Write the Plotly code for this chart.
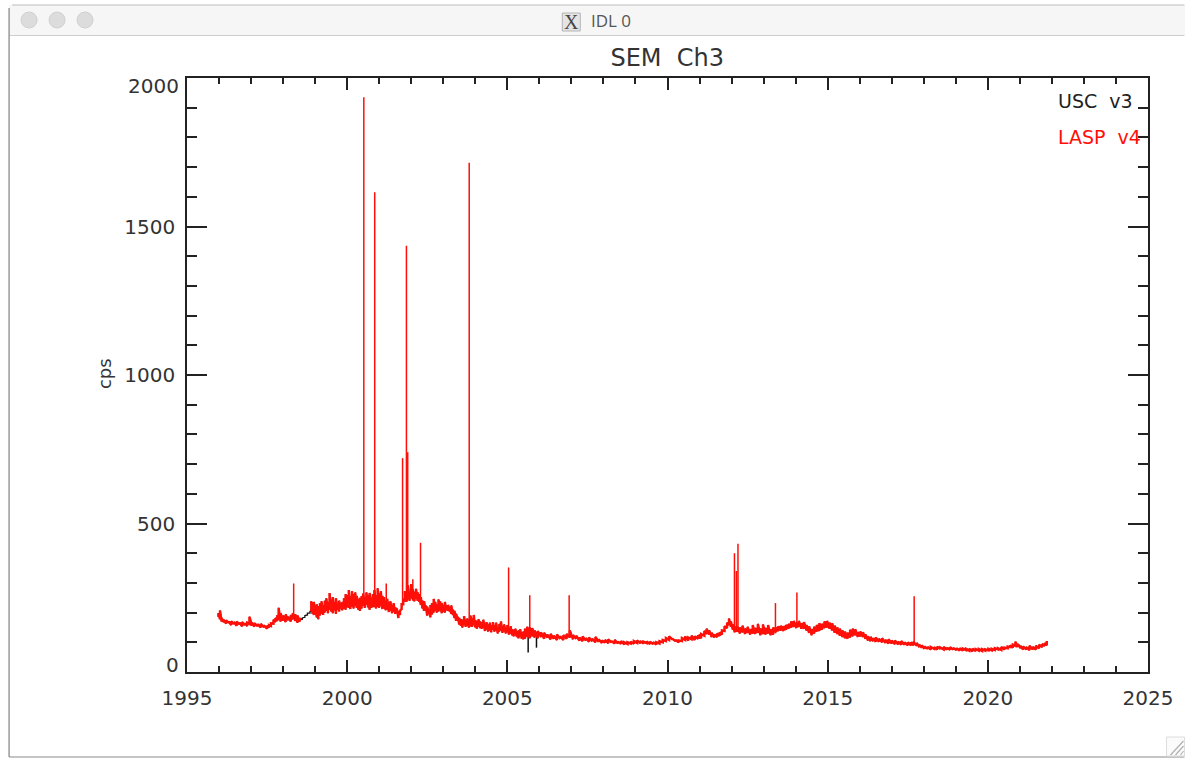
import plotly.graph_objects as go

# ---------- data ----------
t_a = [1995.98,1996.03,1996.08,1996.15,1996.22,1996.3,1996.38,1996.46,1996.55,1996.64,1996.72,1996.8,1996.88,1996.95,1997.03,1997.1,1997.2,1997.3,1997.4,1997.5,1997.56,1997.62,1997.7,1997.76,1997.82,1997.86,1997.92,1998.0,1998.08,1998.16,1998.24,1998.3,1998.38,1998.45,1998.52]
lo_a = [186,178,170,168,163,166,158,162,156,160,154,158,155,162,156,153,155,150,151,146,150,155,163,168,172,176,170,173,168,174,170,178,172,166,170]
hi_a = [198,207,182,176,174,170,171,168,170,166,168,164,166,186,166,164,161,162,157,156,158,164,176,182,192,216,198,190,194,186,192,198,194,190,182]

t_b = [1998.6,1998.68,1998.76,1998.84]
lo_b = [176,184,192,198]
hi_b = [182,190,198,204]

t_c = [1998.88,1998.92,1998.96,1999.0,1999.05,1999.1,1999.15,1999.2,1999.25,1999.3,1999.35,1999.4,1999.45,1999.5,1999.55,1999.6,1999.65,1999.7,1999.75,1999.8,1999.85,1999.9,1999.95,2000.0,2000.05,2000.1,2000.15,2000.2,2000.25,2000.3,2000.35,2000.4,2000.45,2000.5,2000.55,2000.6,2000.65,2000.7,2000.75,2000.8,2000.85,2000.9,2000.95,2001.0,2001.05,2001.1,2001.15,2001.2,2001.25,2001.3,2001.35,2001.4,2001.45,2001.5,2001.55,2001.6,2001.65,2001.7,2001.75,2001.8,2001.85,2001.9,2001.95,2002.0,2002.05,2002.1,2002.15,2002.2,2002.25,2002.3,2002.35,2002.4,2002.45,2002.5,2002.55,2002.6,2002.65,2002.7,2002.75,2002.8,2002.85,2002.9,2002.95,2003.0,2003.05,2003.1,2003.15,2003.2,2003.25,2003.3,2003.35,2003.4,2003.45,2003.5,2003.55,2003.6,2003.65,2003.7,2003.75,2003.8,2003.85,2003.9,2003.95,2004.0,2004.05,2004.1,2004.15,2004.2,2004.25,2004.3,2004.35,2004.4,2004.45,2004.5,2004.55,2004.6,2004.65,2004.7,2004.75,2004.8,2004.85,2004.9,2004.95,2005.0,2005.05,2005.1,2005.15,2005.2,2005.25,2005.3,2005.35,2005.4,2005.45,2005.5]
lo_c = [204,196,192,198,184,178,190,196,192,200,206,198,210,204,198,208,196,210,204,212,208,214,210,218,216,212,220,214,222,216,210,206,214,224,216,226,218,210,216,218,222,214,220,216,222,212,214,208,210,202,206,198,204,196,200,182,192,212,228,238,236,246,240,248,244,238,246,240,236,226,214,206,210,190,196,184,194,200,206,200,204,206,198,204,200,208,206,204,196,192,182,172,176,160,156,150,158,152,156,150,154,152,158,150,146,152,148,146,150,138,144,136,140,134,142,136,140,130,136,140,132,138,130,134,126,130,124,120,124,118,114,118,112,110]
hi_c = [238,226,236,222,228,222,232,238,226,240,248,236,266,244,252,236,248,228,240,232,236,248,262,258,276,254,272,262,268,256,246,250,256,264,252,268,258,266,250,262,276,258,282,264,272,256,252,240,246,236,238,226,232,218,214,204,206,228,246,272,258,292,270,296,278,270,280,268,262,252,240,238,224,220,210,226,232,246,236,228,244,238,232,226,236,222,226,220,224,210,206,196,186,182,178,176,188,172,180,176,190,182,192,174,172,178,170,168,176,162,168,160,166,156,168,158,166,150,162,170,152,160,148,158,148,154,144,142,146,138,140,144,134,136]

t_d = [2005.55,2005.62,2005.7,2005.78,2005.85,2005.95,2006.05,2006.15,2006.25,2006.35,2006.45,2006.55,2006.65,2006.75,2006.85,2006.95,2007.05,2007.15,2007.25,2007.35,2007.45,2007.55,2007.65,2007.75,2007.85,2007.95,2008.05,2008.15,2008.25,2008.35,2008.45,2008.55,2008.65,2008.75,2008.85,2008.95,2009.05,2009.15,2009.25,2009.35,2009.45,2009.55,2009.65,2009.75,2009.85,2009.95,2010.05,2010.15,2010.25,2010.35,2010.45,2010.55,2010.65,2010.75,2010.85,2010.95,2011.0]
lo_d = [112,118,114,120,116,114,118,112,116,110,112,108,112,108,112,116,110,112,106,104,106,102,104,100,102,98,99,97,100,96,96,95,93,94,96,95,98,97,96,97,94,94,93,96,100,104,108,110,104,100,104,108,106,110,108,112,112]
hi_d = [146,152,150,148,140,138,134,132,126,128,122,126,120,124,128,140,124,122,116,120,114,116,112,118,110,106,108,110,104,108,102,104,100,100,102,104,106,104,102,103,102,100,100,104,108,114,120,112,108,106,114,120,116,122,120,124,126]

t_e = [2011.05,2011.15,2011.22,2011.3,2011.38,2011.46,2011.55,2011.63,2011.7,2011.78,2011.86,2011.92,2011.98,2012.04,2012.1,2012.18,2012.26,2012.34,2012.42,2012.5,2012.58,2012.66,2012.74,2012.82,2012.9,2012.98,2013.06,2013.14,2013.22,2013.3,2013.38,2013.46,2013.54,2013.62,2013.7,2013.78,2013.86,2013.94,2014.02,2014.1,2014.18,2014.26,2014.34,2014.42,2014.5,2014.58,2014.66,2014.74,2014.82,2014.9,2014.98,2015.06,2015.14,2015.22,2015.3,2015.38,2015.46,2015.54,2015.62,2015.7,2015.78,2015.86,2015.94,2016.02,2016.1,2016.18,2016.26,2016.34,2016.42,2016.5,2016.6,2016.7,2016.8,2016.9,2017.0,2017.1,2017.2,2017.3,2017.4,2017.5,2017.6,2017.68]
lo_e = [114,122,128,126,118,116,118,122,126,138,148,158,152,142,134,136,130,134,128,132,126,130,128,132,124,128,126,130,124,126,134,138,140,138,142,146,150,152,148,152,146,146,140,132,124,130,136,138,142,148,150,146,140,132,128,122,118,114,112,116,120,124,118,120,118,112,106,104,104,102,102,100,98,96,96,94,93,92,92,90,90,90]
hi_e = [128,138,146,140,132,126,130,134,140,154,166,180,170,160,152,152,150,156,146,152,144,158,148,162,146,160,148,158,144,150,150,154,156,154,158,162,170,172,166,172,164,168,158,154,144,152,158,164,162,170,172,166,164,156,150,146,140,136,132,142,146,144,134,136,134,126,120,118,114,116,112,114,108,110,106,106,102,104,100,100,100,102]

t_f = [2017.78,2017.86,2017.94,2018.02,2018.12,2018.22,2018.32,2018.42,2018.52,2018.62,2018.72,2018.82,2018.92,2019.02,2019.12,2019.22,2019.32,2019.42,2019.52,2019.62,2019.72,2019.82,2019.92,2020.02,2020.12,2020.22,2020.32,2020.42,2020.52,2020.62,2020.7,2020.78,2020.86,2020.94,2021.02,2021.1,2021.2,2021.3,2021.4,2021.5,2021.6,2021.7,2021.78,2021.84]
lo_f = [88,84,82,78,78,76,78,76,78,76,76,75,76,74,72,72,74,72,70,71,72,71,72,73,73,74,76,74,76,80,84,82,88,84,80,76,76,74,76,76,80,84,88,90]
hi_f = [98,92,90,86,84,84,83,85,82,84,82,83,81,80,80,79,78,78,78,77,77,77,76,78,78,80,80,84,82,86,90,92,102,94,88,86,84,88,84,88,92,94,98,104]

spike_years = [1998.33,2000.52,2000.86,2001.22,2001.73,2001.85,2001.89,2002.05,2002.29,2003.81,2005.04,2005.70,2006.93,2012.09,2012.15,2012.20,2013.37,2014.04,2017.70]
spike_tops = [298,1935,1615,298,720,1435,740,312,435,1715,352,258,258,400,340,432,232,268,255]
spike_bases = [180,224,218,214,232,240,240,240,226,150,132,118,118,134,136,136,130,150,92]

usc_dip_years = [2005.65,2005.91]
usc_dip_lows = [66,82]
usc_dip_bases = [130,125]

title_text = "SEM&#160;&#160;Ch3"
ylabel = "cps"
x_ticks = [1995,2000,2005,2010,2015,2020,2025]
y_ticks = [0,500,1000,1500,2000]
y_tick_text = ["","500","1000","1500",""]

# ---------- assemble ----------
def zig(points):
    xs, ys = [], []
    for t, a, b in points:
        xs += [t, t]
        ys += [a, b]
    return xs, ys

def sticks(years, a, b):
    xs, ys = [], []
    for t, p, q in zip(years, a, b):
        xs += [t, t, None]
        ys += [p, q, None]
    return xs, ys

band_early = list(zip(t_a, lo_a, hi_a))
band_late = (list(zip(t_c, lo_c, hi_c)) + list(zip(t_d, lo_d, hi_d))
             + list(zip(t_e, lo_e, hi_e)) + list(zip(t_f, lo_f, hi_f)))
bridge = list(zip(t_b, lo_b, hi_b))

red1_x, red1_y = zig(band_early)
red2_x, red2_y = zig(band_late)
red_x = red1_x + [None] + red2_x
red_y = red1_y + [None] + red2_y
black_x, black_y = zig(band_early + bridge + band_late)
spike_x, spike_y = sticks(spike_years, spike_bases, spike_tops)
dip_x, dip_y = sticks(usc_dip_years, usc_dip_lows, usc_dip_bases)

RED = "#ff0f08"
INK = "#111111"
fig = go.Figure()
fig.add_trace(go.Scatter(x=black_x, y=black_y, mode="lines", name="USC v3",
                         line=dict(color=INK, width=1.3), hoverinfo="skip"))
fig.add_trace(go.Scatter(x=dip_x, y=dip_y, mode="lines", name="USC v3",
                         line=dict(color=INK, width=1.5), hoverinfo="skip"))
fig.add_trace(go.Scatter(x=red_x, y=red_y, mode="lines", name="LASP v4",
                         line=dict(color=RED, width=2.4), hoverinfo="skip"))
fig.add_trace(go.Scatter(x=spike_x, y=spike_y, mode="lines", name="LASP v4",
                         line=dict(color=RED, width=1.5), hoverinfo="skip"))

L, R, T, B = 187, 1148.5, 78, 672
def px(x): return (x - L) / (R - L)
def py(y): return (B - y) / (B - T)

FONT = "DejaVu Sans"
TXT = "#333333"
shapes = []
def rect(x0, y0, x1, y1, fill, line=None, w=1):
    shapes.append(dict(type="rect", xref="paper", yref="paper", layer="below",
                       x0=px(x0), x1=px(x1), y0=py(y0), y1=py(y1), fillcolor=fill,
                       line=dict(color=line or fill, width=w if line else 0)))
def seg(x0, y0, x1, y1, color, w=1):
    shapes.append(dict(type="line", xref="paper", yref="paper", layer="below",
                       x0=px(x0), x1=px(x1), y0=py(y0), y1=py(y1), line=dict(color=color, width=w)))

# window chrome
rect(9, 5, 1186, 35, "#f6f6f6")
seg(9, 35.5, 1185, 35.5, "#cfcfcf")
seg(12, 5, 1185, 5, "#bdbdbd")
seg(9, 8, 9, 757, "#9a9a9a", 1.5)
seg(9, 757, 1185, 757, "#8a8a8a", 1.2)
for cx in (29, 57, 85):
    shapes.append(dict(type="circle", xref="paper", yref="paper", layer="below",
                       x0=px(cx-8), x1=px(cx+8), y0=py(12), y1=py(28),
                       fillcolor="#dcdcdc", line=dict(color="#d0d0d0", width=1)))
rect(562.5, 13, 580.5, 31, "#e4e4e4", "#b5b5b5")
rect(1167, 737, 1185, 756, "#fbfbfb", "#dddddd")
for d in (4, 9, 14):
    seg(1185-d, 755, 1184, 755-d, "#b0b0b0", 1.2)

def note(x, y, text, color, size, family=FONT, xanchor="left", **kw):
    return dict(x=px(x), y=py(y), text=text, font=dict(color=color, size=size, family=family),
                xanchor=xanchor, yanchor="middle", showarrow=False, xref="paper", yref="paper", **kw)

ann = [
    note(1056, 101, "USC&#160;&#160;v3", "#222222", 19),
    note(1056, 137, "LASP&#160;&#160;v4", RED, 19),
    dict(x=px(181), y=0, yshift=7, text="0", font=dict(color=TXT, size=20, family=FONT),
         xanchor="right", yanchor="middle", showarrow=False, xref="paper", yref="y"),
    dict(x=px(181), y=2000, yshift=-8, text="2000", font=dict(color=TXT, size=20, family=FONT),
         xanchor="right", yanchor="middle", showarrow=False, xref="paper", yref="y"),
    note(104, 374, ylabel, TXT, 18, xanchor="center", textangle=-90),
    note(589, 21, "IDL 0", "#555555", 17, family="Open Sans"),
    note(571.5, 22, "X", "#444444", 20, family="Liberation Serif", xanchor="center"),
]

fig.update_layout(
    width=1185, height=758, autosize=False,
    margin=dict(l=L, r=1185-R, t=T, b=758-B, pad=0),
    paper_bgcolor="white", plot_bgcolor="rgba(0,0,0,0)",
    showlegend=False, shapes=shapes, annotations=ann,
    title=dict(text=title_text, x=px(667.5), xref="paper", xanchor="center",
               y=1-58/758, yref="container", yanchor="middle",
               font=dict(family=FONT, size=24, color=TXT)),
    xaxis=dict(range=[1995,2025], tickmode="array", tickvals=x_ticks, ticktext=[str(v) for v in x_ticks],
               ticks="inside", ticklen=12, tickwidth=1.5, tickcolor="#222222",
               showline=True, linecolor="#222222", linewidth=1.5, mirror="allticks",
               showgrid=False, zeroline=False, ticklabelstandoff=7,
               tickfont=dict(family=FONT, size=20, color=TXT),
               minor=dict(dtick=1, tick0=1995, ticks="inside", ticklen=6, tickwidth=1.5, tickcolor="#222222", showgrid=False)),
    yaxis=dict(range=[0,2000], tickmode="array", tickvals=y_ticks, ticktext=y_tick_text,
               ticks="inside", ticklen=20, tickwidth=1.5, tickcolor="#222222",
               showline=True, linecolor="#222222", linewidth=1.5, mirror="allticks",
               showgrid=False, zeroline=False, ticklabelstandoff=6,
               tickfont=dict(family=FONT, size=20, color=TXT),
               minor=dict(dtick=100, tick0=0, ticks="inside", ticklen=10, tickwidth=1.5, tickcolor="#222222", showgrid=False)),
)

fig.write_html("out.html", config=dict(displayModeBar=False),
               post_script="document.body.style.margin='0';document.documentElement.style.overflow='hidden';")
